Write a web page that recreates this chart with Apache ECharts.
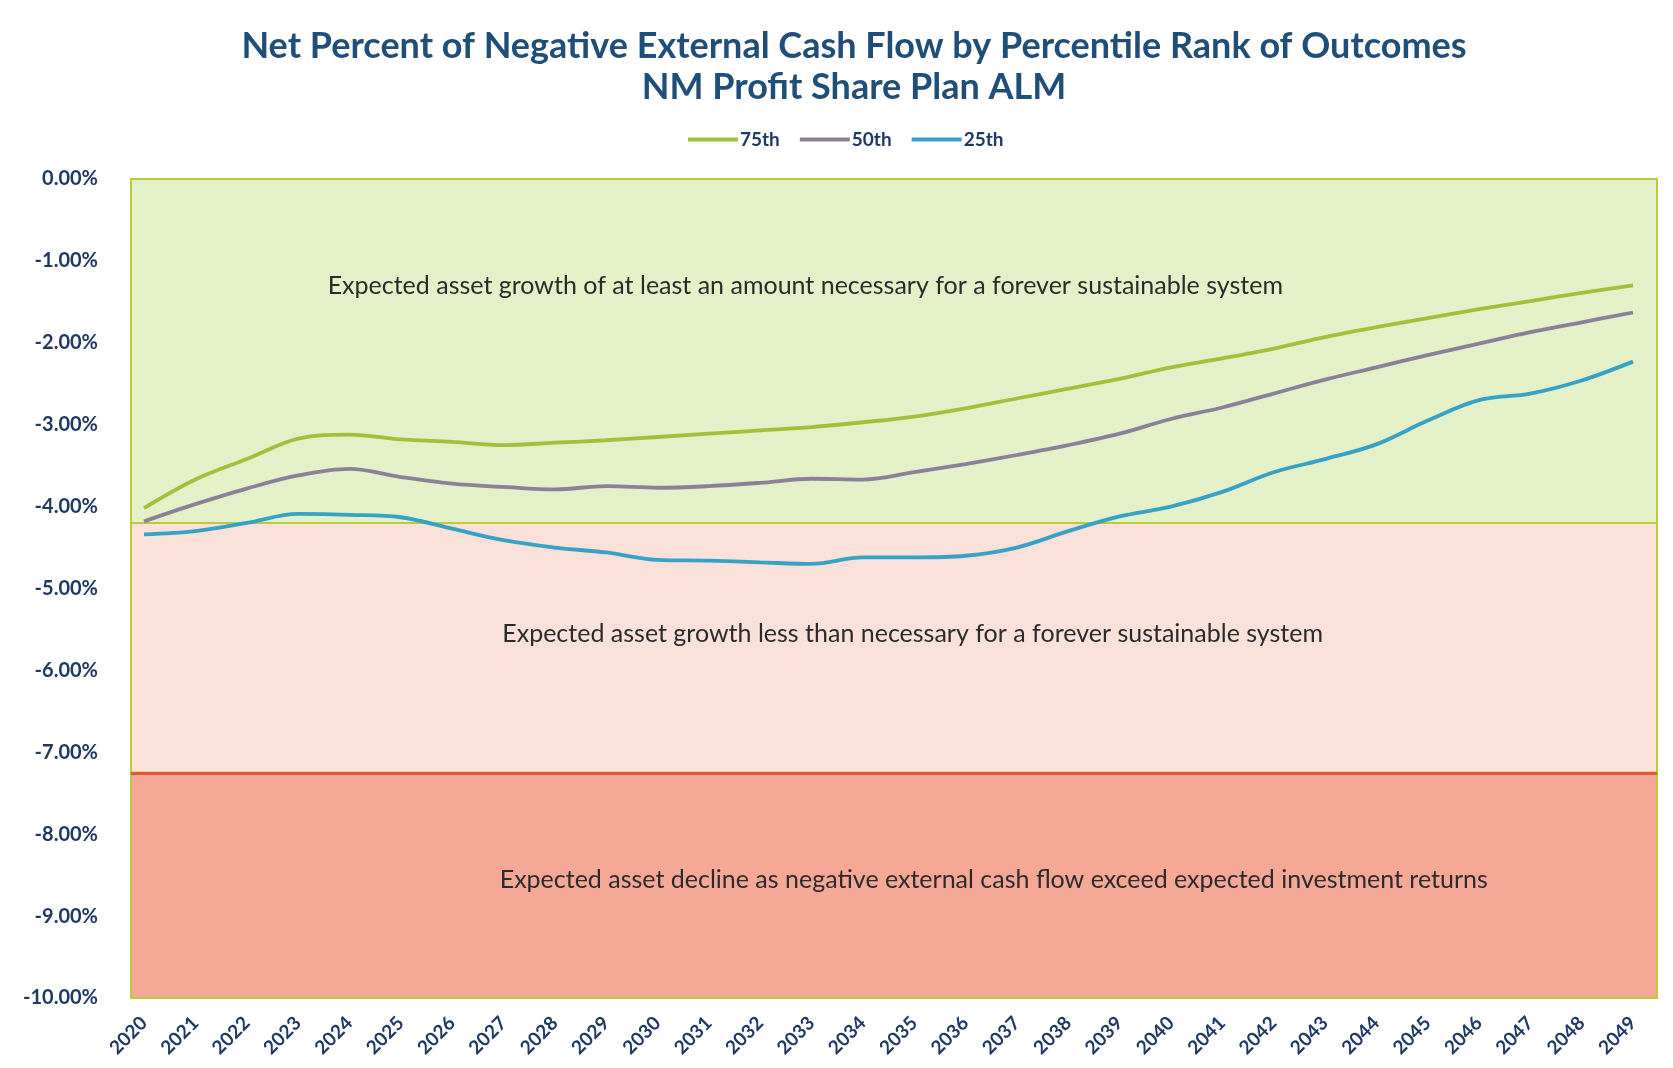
<!DOCTYPE html>
<html>
<head>
<meta charset="utf-8">
<title>Net Percent of Negative External Cash Flow</title>
<script src="https://cdn.jsdelivr.net/npm/echarts@6/dist/echarts.min.js"></script>
<style>
  html, body { margin: 0; padding: 0; background: #ffffff; }
  #chart { width: 1673px; height: 1068px; }
</style>
</head>
<body>
<div id="chart"></div>
<script>
// Projection years
const years = ['2020','2021','2022','2023','2024','2025','2026','2027','2028','2029',
               '2030','2031','2032','2033','2034','2035','2036','2037','2038','2039',
               '2040','2041','2042','2043','2044','2045','2046','2047','2048','2049'];

// Net external cash flow as percent of assets, by percentile of outcomes
const p75 = [-4.02,-3.67,-3.42,-3.17,-3.12,-3.18,-3.21,-3.25,-3.22,-3.19,
             -3.15,-3.11,-3.07,-3.03,-2.97,-2.90,-2.80,-2.68,-2.56,-2.44,
             -2.30,-2.19,-2.07,-1.93,-1.81,-1.70,-1.59,-1.49,-1.39,-1.30];
const p50 = [-4.18,-3.97,-3.78,-3.62,-3.54,-3.64,-3.72,-3.76,-3.79,-3.75,
             -3.77,-3.75,-3.71,-3.66,-3.67,-3.58,-3.48,-3.37,-3.25,-3.11,
             -2.93,-2.79,-2.62,-2.45,-2.30,-2.15,-2.01,-1.87,-1.75,-1.63];
const p25 = [-4.34,-4.30,-4.20,-4.09,-4.10,-4.13,-4.27,-4.41,-4.50,-4.56,
             -4.65,-4.66,-4.68,-4.70,-4.62,-4.62,-4.60,-4.50,-4.30,-4.12,
             -4.00,-3.82,-3.58,-3.42,-3.24,-2.95,-2.70,-2.62,-2.46,-2.23];

const seriesNames = ['75th', '50th', '25th'];

// Sustainability zones (percent): upper edge, green/pink boundary, pink/red boundary, lower edge
const zoneEdges = [0, -4.2, -7.25, -10];
const zoneNotes = [
  'Expected asset growth of at least an amount necessary for a forever sustainable system',
  'Expected asset growth less than necessary for a forever sustainable system',
  'Expected asset decline as negative external cash flow exceed expected investment returns'
];
// Where each zone note is centred: [year position (0 = 2020), percent]
const notePlaces = [[12.88, -1.31], [14.97, -5.56], [16.55, -8.56]];

// Value axis
const yMin = -10, yMax = 0, yStep = 1;

const navy = '#1f3864';
const titleBlue = '#1f4e79';
const lineColors = ['#a0c23a', '#8b8097', '#35a2c6'];
const zoneFills = ['#e4f0c7', '#fae1da', '#f5a896'];
const zoneBorder = '#bccb3c';

const chart = echarts.init(document.getElementById('chart'), null, { renderer: 'canvas' });

const lineSeries = [p75, p50, p25].map((vals, i) => ({
  name: seriesNames[i],
  type: 'line',
  xAxisIndex: 0,
  yAxisIndex: 0,
  data: vals,
  smooth: 0.35,
  symbol: 'none',
  z: 5,
  lineStyle: { color: lineColors[i], width: 3.8 },
  itemStyle: { color: lineColors[i] }
}));

// Zone bands live on their own, slightly wider grid behind the lines
const zoneSeries = {
  name: 'zones',
  type: 'line',
  xAxisIndex: 1,
  yAxisIndex: 1,
  data: years.map(() => null),
  symbol: 'none',
  silent: true,
  z: 1,
  markArea: {
    silent: true,
    data: [0, 1, 2].map(i => [
      { yAxis: zoneEdges[i], itemStyle: { color: zoneFills[i], borderColor: zoneBorder, borderWidth: 2 } },
      { yAxis: zoneEdges[i + 1] }
    ])
  },
  markLine: {
    silent: true,
    symbol: ['none', 'none'],
    label: { show: false },
    lineStyle: { color: '#e0583c', width: 3, type: 'solid' },
    data: [{ yAxis: zoneEdges[2] }]
  }
};

const labelFont = { fontFamily: 'Lato', fontWeight: 'bold', color: navy };

chart.setOption({
  backgroundColor: '#ffffff',
  animation: false,
  title: {
    text: 'Net Percent of Negative External Cash Flow by Percentile Rank of Outcomes\nNM Profit Share Plan ALM',
    left: 849,
    top: 21,
    textAlign: 'center',
    textStyle: {
      fontFamily: 'Lato',
      fontWeight: 'bold',
      fontSize: 36,
      lineHeight: 41,
      color: titleBlue
    }
  },
  legend: {
    data: seriesNames,
    left: 688,
    top: 130,
    padding: 0,
    icon: 'rect',
    itemWidth: 50,
    itemHeight: 4,
    itemGap: 20,
    textStyle: Object.assign({ fontSize: 19, padding: [0, 0, 0, -3] }, labelFont)
  },
  grid: [
    { left: 144, right: 40, top: 179, bottom: 70 },
    { left: 131, right: 16, top: 179, bottom: 70 }
  ],
  xAxis: [
    {
      type: 'category',
      gridIndex: 0,
      data: years,
      boundaryGap: false,
      axisLine: { show: false },
      axisTick: { show: false },
      axisLabel: Object.assign({ rotate: 45, margin: 22, interval: 0, fontSize: 19 }, labelFont),
      splitLine: { show: false }
    },
    {
      type: 'category',
      gridIndex: 1,
      data: years,
      show: false
    }
  ],
  yAxis: [
    {
      type: 'value',
      gridIndex: 0,
      min: yMin,
      max: yMax,
      interval: yStep,
      axisLine: { show: false },
      axisTick: { show: false },
      axisLabel: Object.assign({ margin: 46, fontSize: 20, formatter: v => v.toFixed(2) + '%' }, labelFont),
      splitLine: { show: false }
    },
    {
      type: 'value',
      gridIndex: 1,
      min: yMin,
      max: yMax,
      interval: yStep,
      axisLine: { show: false },
      axisTick: { show: false },
      axisLabel: { show: false },
      splitLine: { show: true, lineStyle: { color: 'rgba(140,140,140,0.28)', width: 1 } }
    }
  ],
  series: [zoneSeries].concat(lineSeries)
});

// Zone notes, positioned through the line grid's axes
const p0 = chart.convertToPixel({ gridIndex: 0 }, [0, 0]);
const p1 = chart.convertToPixel({ gridIndex: 0 }, [1, 0]);
const step = p1[0] - p0[0];
const notes = zoneNotes.map((txt, i) => {
  const whole = Math.floor(notePlaces[i][0]);
  const p = chart.convertToPixel({ gridIndex: 0 }, [whole, notePlaces[i][1]]);
  return {
    type: 'text',
    x: p[0] + (notePlaces[i][0] - whole) * step,
    y: p[1],
    z: 10,
    style: {
      text: txt,
      fill: '#2b2b2b',
      font: '25px Lato',
      align: 'center',
      verticalAlign: 'middle'
    }
  };
});
chart.setOption({ graphic: notes });
</script>
</body>
</html>
